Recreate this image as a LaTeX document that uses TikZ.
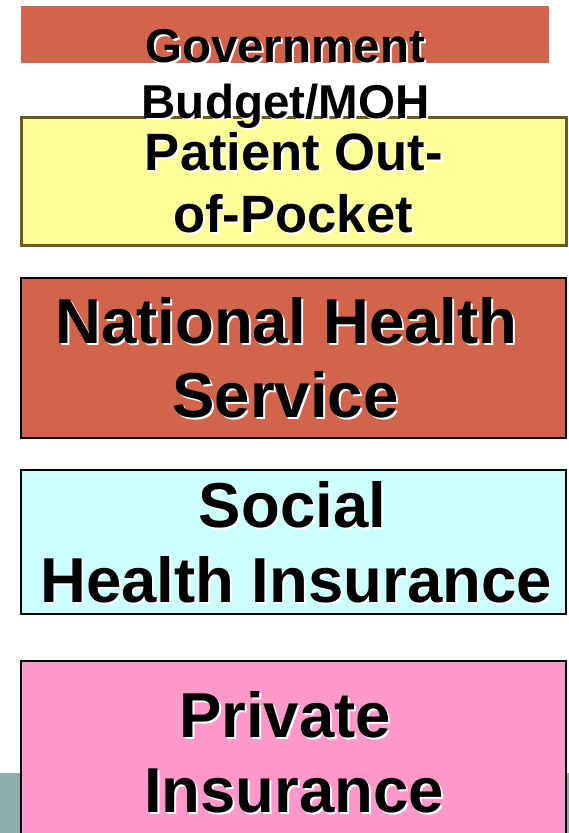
\documentclass[tikz,border=0pt]{standalone}
\usepackage{fontspec}
\setmainfont{Liberation Sans}
\usepackage{tikz}
\newcommand{\shadowoff}{2pt}
\newcommand{\sh}[1]{\rlap{\kern\shadowoff\raisebox{-\shadowoff}{\color{white}#1}}#1}
\newcommand{\smallsize}{\fontsize{47.5}{56}\selectfont}
\newcommand{\midsize}{\fontsize{52.6}{62}\selectfont}
\newcommand{\bigsize}{\fontsize{63.5}{74}\selectfont}
\definecolor{budgetred}{RGB}{209,100,75}
\definecolor{pocketyellow}{RGB}{255,255,153}
\definecolor{pocketedge}{RGB}{110,90,30}
\definecolor{shicyan}{RGB}{204,255,255}
\definecolor{privpink}{RGB}{255,153,204}
\definecolor{basegray}{RGB}{143,175,172}
\tikzstyle{fund}=[draw=black, line width=2pt, inner sep=0, outer sep=0, minimum width=545pt]
\tikzstyle{txt}=[inner sep=0, outer sep=0, anchor=base, font=\bfseries]

\begin{document}
\begin{tikzpicture}[x=1pt, y=-1pt]
    \useasboundingbox (0,0) rectangle (569,833);
    % gray band behind the last box
    \fill[basegray] (0,773) rectangle (569,833);
    \node[fund, draw=none, fill=budgetred, minimum width=528pt, minimum height=57pt] (gov) at (285,34.5) {};
    \node[fund, draw=pocketedge, line width=3pt, fill=pocketyellow, minimum height=128pt] (pocket) at (293.5,181) {};
    \node[fund, fill=budgetred, minimum height=160pt] (nhs) at (293.5,357.5) {};
    \node[fund, fill=shicyan, minimum height=144pt] (shi) at (293.5,542) {};
    \node[fund, fill=privpink, minimum height=240pt] (priv) at (293.5,781) {};
    % labels
    \node[txt, font=\bfseries\smallsize] (gov1) at (285,62) {\sh{Government}};
    \node[txt, font=\bfseries\smallsize] (gov2) at (285.5,118) {\sh{Budget/MOH}};
    \node[txt, font=\bfseries\midsize] (pocket1) at (294,170) {\sh{Patient Out-}};
    \node[txt, font=\bfseries\midsize] (pocket2) at (293,232) {\sh{of-Pocket}};
    \node[txt, font=\bfseries\bigsize] (nhs1) at (286.5,343) {\sh{National Health}};
    \node[txt, font=\bfseries\bigsize] (nhs2) at (285.5,417) {\sh{Service}};
    \node[txt, font=\bfseries\bigsize] (shi1) at (292.5,527) {\sh{Social}};
    \node[txt, font=\bfseries\bigsize] (shi2) at (296,602) {\sh{Health Insurance}};
    \node[txt, font=\bfseries\bigsize] (priv1) at (285,737) {\sh{Private}};
    \node[txt, font=\bfseries\bigsize] (priv2) at (294,812) {\sh{Insurance}};
\end{tikzpicture}
\end{document}
